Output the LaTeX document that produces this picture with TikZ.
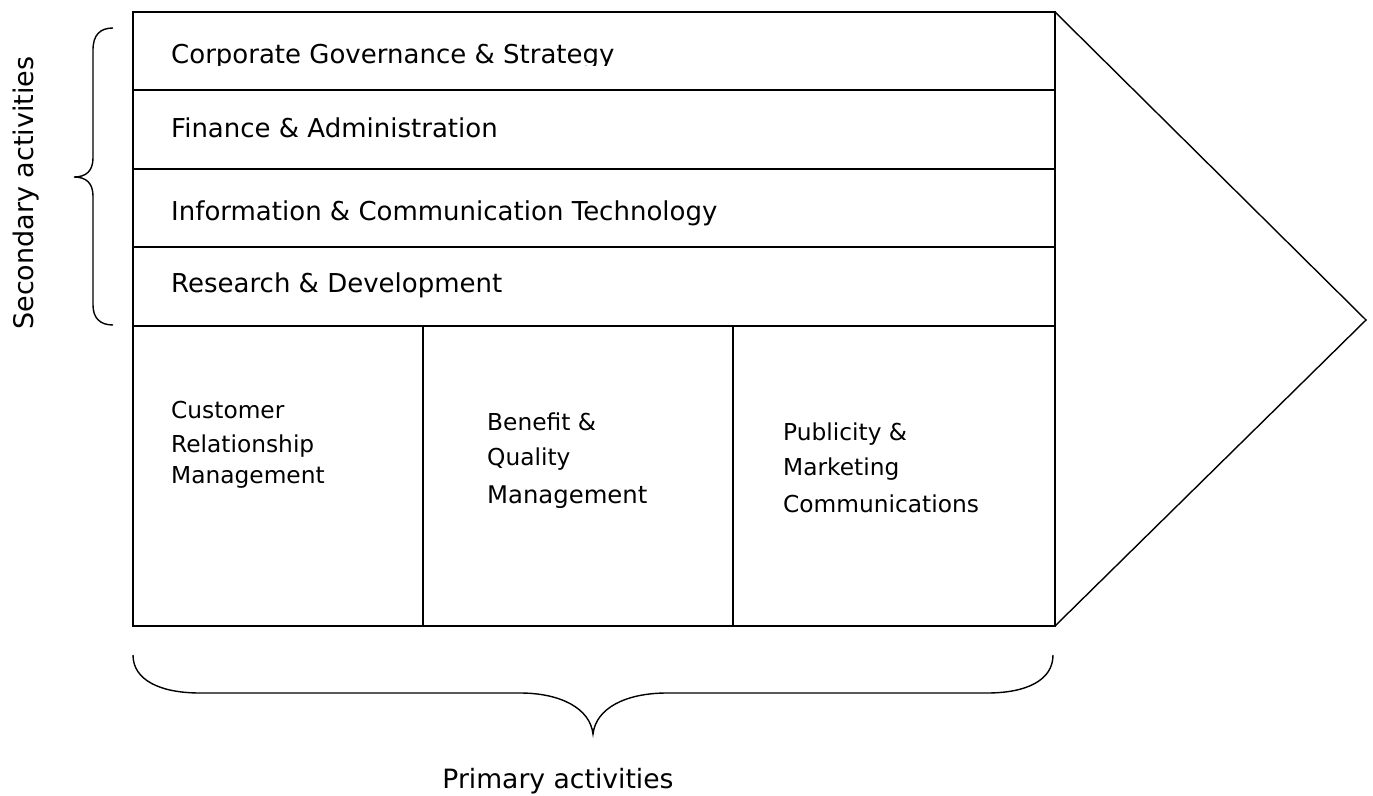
\documentclass[tikz,border=0pt]{standalone}
\usepackage{fontspec}
\setmainfont{DejaVu Sans}
\begin{document}
\begin{tikzpicture}[x=1pt,y=-1pt,
  frame/.style={line width=2pt},
  sep/.style={line width=1.8pt},
  thin/.style={line width=1.4pt},
  rowlabel/.style={anchor=base west,inner sep=0pt,font=\fontsize{26}{31}\selectfont},
  celllabel/.style={anchor=base west,inner sep=0pt,font=\fontsize{23.3}{28}\selectfont},
  sidelabel/.style={anchor=base,inner sep=0pt,font=\fontsize{26.6}{32}\selectfont}]
\useasboundingbox (0,0) rectangle (1373,795);
% outer frame and rows
\coordinate (tl) at (133,12);
\coordinate (br) at (1055,626);
\draw[frame] (tl) rectangle (br);
\draw[sep] (133,90) -- (1055,90);
\draw[sep] (133,169) -- (1055,169);
\draw[sep] (133,247) -- (1055,247);
\draw[sep] (133,326) -- (1055,326);
\draw[sep] (423,326) -- (423,626);
\draw[sep] (733,326) -- (733,626);
% arrow head
\coordinate (tip) at (1366,320);
\draw[thin,line join=miter] (1055,12) -- (tip) -- (1055,626);
% row labels
\begin{scope}
\clip (133,12) rectangle (1055,65.5);
\node[rowlabel] (corp) at (171,63) {Corporate Governance \& Strategy};
\end{scope}
\node[rowlabel] (fin) at (171,137) {Finance \& Administration};
\node[rowlabel] (ict) at (171,220) {Information \& Communication Technology};
\node[rowlabel] (rd) at (171,292) {Research \& Development};
% cell labels
\node[celllabel] (c1a) at (171,418) {Customer};
\node[celllabel] (c1b) at (171,452) {Relationship};
\node[celllabel] (c1c) at (171,483) {Management};
\node[celllabel] (c2a) at (487,430) {Benefit \&};
\node[celllabel] (c2b) at (487,465) {Quality};
\node[celllabel,font=\fontsize{24.3}{29}\selectfont] (c2c) at (487,503) {Management};
\node[celllabel] (c3a) at (783,440) {Publicity \&};
\node[celllabel] (c3b) at (783,475) {Marketing};
\node[celllabel] (c3c) at (783,512) {Communications};
% left brace
\draw[thin] (113,28) .. controls (100,28) and (93,35) .. (93,50) -- (93,158)
  .. controls (93,171) and (86,177) .. (74,177)
  .. controls (86,177) and (93,183) .. (93,196) -- (93,305)
  .. controls (93,318) and (100,325) .. (113,325);
\node[sidelabel,rotate=90,font=\fontsize{27}{32}\selectfont] (sec) at (33,193) {Secondary activities};
% bottom brace
\draw[thin] (133,655) .. controls (133,680) and (160,693) .. (200,693) -- (520,693)
  .. controls (560,693) and (590,708) .. (593,734)
  .. controls (596,708) and (626,693) .. (667,693) -- (987,693)
  .. controls (1027,693) and (1053,680) .. (1053,655);
\node[sidelabel] (prim) at (558,788) {Primary activities};
\end{tikzpicture}
\end{document}
